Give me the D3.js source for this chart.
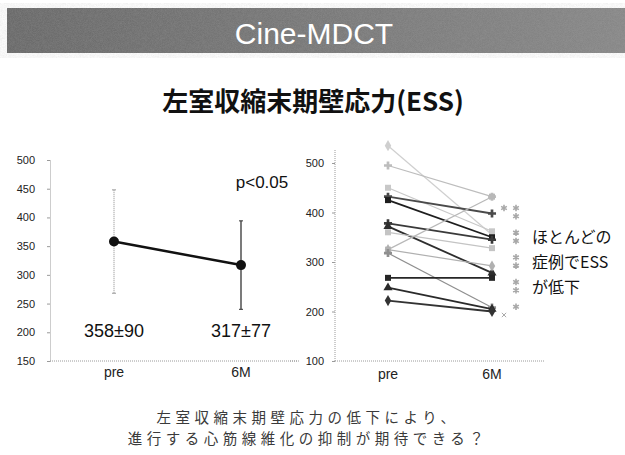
<!DOCTYPE html>
<html>
<head>
<meta charset="utf-8">
<script src="https://cdn.jsdelivr.net/npm/d3@7"></script>
<style>
  body { margin: 0; background: #fff; }
  svg { display: block; font-family: "Liberation Sans", Arial, sans-serif; }
</style>
</head>
<body>
<svg id="chart" width="625" height="455"></svg>
<script>
// --- data ---
const timepoints = ['pre', '6M'];
const meanValues = [358, 317];
const sdValues = [90, 77];
const meanLabels = ['358±90', '317±77'];
const leftTicks = [150, 200, 250, 300, 350, 400, 450, 500];
const rightTicks = [100, 200, 300, 400, 500];

// individual patients, pre and 6M
const preValues  = [535, 495, 450, 432, 425, 378, 372, 360, 325, 325, 318, 268, 248, 222];
const postValues = [355, 432, 362, 398, 350, 345, 278, 328, 432, 292, 208, 268, 205, 200];
const lineShades = ['#cfcfcf', '#bdbdbd', '#c8c8c8', '#4a4a4a', '#1e1e1e', '#3a3a3a', '#2e2e2e',
                    '#c4c4c4', '#b8b8b8', '#b0b0b0', '#8f8f8f', '#262626', '#2a2a2a', '#333333'];
const markerTypes = ['diamond', 'cross', 'square', 'cross', 'square', 'cross', 'triangle',
                     'square', 'square', 'diamond', 'cross', 'square', 'triangle', 'diamond'];

const svg = d3.select('#chart');

// header band
const noise = svg.append('defs').append('filter').attr('id', 'grain');
noise.append('feTurbulence').attr('type', 'fractalNoise').attr('baseFrequency', 1.6).attr('numOctaves', 1).attr('seed', 3);
noise.append('feColorMatrix').attr('type', 'matrix')
    .attr('values', '0 0 0 0 0.5  0 0 0 0 0.5  0 0 0 0 0.5  0 0 0 0.9 -0.1');
const grad = svg.select('defs').append('linearGradient').attr('id', 'band');
grad.append('stop').attr('offset', '0%').attr('stop-color', '#666');
grad.append('stop').attr('offset', '100%').attr('stop-color', '#858585');

svg.append('rect').attr('x', 7).attr('y', 8).attr('width', 618).attr('height', 45).attr('fill', 'url(#band)');
svg.append('rect').attr('x', 7).attr('y', 8).attr('width', 618).attr('height', 45)
    .attr('filter', 'url(#grain)').attr('opacity', 0.35);
svg.append('text').attr('x', 314).attr('y', 44).attr('text-anchor', 'middle')
    .attr('font-size', 30).attr('fill', '#fff').text('Cine-MDCT');

// title
svg.append('text').attr('x', 313).attr('y', 111).attr('text-anchor', 'middle')
    .attr('font-family', '"Noto Sans CJK JP", sans-serif')
    .attr('font-size', 26).attr('font-weight', 700).attr('fill', '#111')
    .text('左室収縮末期壁応力(ESS)');

function styleAxis(g) {
    g.select('.domain').attr('stroke', '#9a9a9a').attr('stroke-dasharray', '1,1');
    g.selectAll('.tick line').attr('stroke', '#9a9a9a');
    g.selectAll('.tick text').attr('font-size', 11).attr('fill', '#222')
        .attr('font-family', '"Liberation Sans Narrow", "Arial Narrow", sans-serif');
}

// ---------- left chart: mean ± SD ----------
const yL = d3.scaleLinear().domain([150, 500]).range([361, 160]);
const xL = d3.scalePoint().domain(timepoints).range([114, 241]);

svg.append('g').attr('transform', 'translate(50,0)')
    .call(d3.axisLeft(yL).tickValues(leftTicks).tickSize(3).tickSizeOuter(0).tickPadding(12))
    .call(styleAxis);
svg.append('line').attr('x1', 50).attr('x2', 298).attr('y1', yL(150)).attr('y2', yL(150))
    .attr('stroke', '#9a9a9a').attr('stroke-dasharray', '1,1');

// error bars
timepoints.forEach((t, i) => {
    const dotted = i === 0;
    svg.append('line')
        .attr('x1', xL(t)).attr('x2', xL(t))
        .attr('y1', yL(meanValues[i] - sdValues[i])).attr('y2', yL(meanValues[i] + sdValues[i]))
        .attr('stroke', dotted ? '#8a8a8a' : '#333')
        .attr('stroke-width', dotted ? 1 : 1.3)
        .attr('stroke-dasharray', dotted ? '1,1' : null);
    [meanValues[i] - sdValues[i], meanValues[i] + sdValues[i]].forEach(v => {
        svg.append('line').attr('x1', xL(t) - 2).attr('x2', xL(t) + 2)
            .attr('y1', yL(v)).attr('y2', yL(v)).attr('stroke', dotted ? '#999' : '#333');
    });
});

svg.append('path')
    .datum(meanValues)
    .attr('fill', 'none').attr('stroke', '#111').attr('stroke-width', 2.5)
    .attr('d', d3.line().x((d, i) => xL(timepoints[i])).y(d => yL(d)));

svg.selectAll('.mean-dot').data(meanValues).enter().append('circle')
    .attr('cx', (d, i) => xL(timepoints[i])).attr('cy', d => yL(d)).attr('r', 5).attr('fill', '#111');

svg.selectAll('.mean-label').data(meanLabels).enter().append('text')
    .attr('x', (d, i) => xL(timepoints[i]))
    .attr('y', 337).attr('text-anchor', 'middle')
    .attr('font-size', 18).attr('fill', '#111').text(d => d);

svg.append('text').attr('x', 262).attr('y', 188).attr('text-anchor', 'middle')
    .attr('font-size', 17).attr('fill', '#111').text('p<0.05');

svg.selectAll('.xl').data(timepoints).enter().append('text')
    .attr('x', d => xL(d)).attr('y', 377).attr('text-anchor', 'middle')
    .attr('font-family', '"Liberation Sans Narrow", "Arial Narrow", sans-serif')
    .attr('font-size', 14).attr('fill', '#222').text(d => d);

// ---------- right chart: individual patients ----------
const yR = d3.scaleLinear().domain([100, 500]).range([361, 163]);
const xR = d3.scalePoint().domain(timepoints).range([388, 492]);

svg.append('g').attr('transform', 'translate(335,0)')
    .call(d3.axisLeft(yR).tickValues(rightTicks).tickSize(3).tickSizeOuter(0).tickPadding(8))
    .call(styleAxis)
    .call(g => g.select('.domain').attr('d', `M0,${yR(100)}V150`));
svg.append('line').attr('x1', 290).attr('x2', 300).attr('y1', yR(100)).attr('y2', yR(100))
    .attr('stroke', '#9a9a9a').attr('stroke-dasharray', '1,1');
svg.append('line').attr('x1', 335).attr('x2', 545).attr('y1', yR(100)).attr('y2', yR(100))
    .attr('stroke', '#9a9a9a').attr('stroke-dasharray', '1,1');

const symbolOf = {
    diamond: d3.symbolDiamond, cross: d3.symbolCross, square: d3.symbolSquare,
    triangle: d3.symbolTriangle
};
const patients = preValues.map((p, i) => ({ pre: p, post: postValues[i], shade: lineShades[i], marker: markerTypes[i] }));

const pline = d3.line().x(d => xR(d.t)).y(d => yR(d.v));
patients.forEach(p => {
    const pts = [{ t: 'pre', v: p.pre }, { t: '6M', v: p.post }];
    svg.append('path').datum(pts)
        .attr('fill', 'none').attr('stroke', p.shade)
        .attr('stroke-width', p.shade < '#8' ? 1.8 : 1.2)
        .attr('d', pline);
    pts.forEach(q => {
        svg.append('path')
            .attr('transform', `translate(${xR(q.t)},${yR(q.v)})`)
            .attr('d', d3.symbol().type(symbolOf[p.marker]).size(36)())
            .attr('fill', p.shade);
    });
});

// legend markers column (truncated series legend)
const legendY = d3.scalePoint().domain(d3.range(patients.length)).range([208, 315]);
svg.selectAll('.leg').data(patients.slice(0, 9)).enter().append('path')
    .attr('transform', (d, i) => `translate(516,${legendY(i * 14 / 9 | 0)})`)
    .attr('d', d3.symbol().type(d3.symbolAsterisk).size(30)())
    .attr('fill', 'none').attr('stroke', '#a8a8a8').attr('stroke-width', 1.6);
svg.append('path').attr('transform', `translate(504,${legendY(0)})`)
    .attr('d', d3.symbol().type(d3.symbolAsterisk).size(30)())
    .attr('fill', 'none').attr('stroke', '#a8a8a8').attr('stroke-width', 1.6);
svg.append('path').attr('transform', `translate(504,${legendY(patients.length - 1)})`)
    .attr('d', d3.symbol().type(d3.symbolTimes).size(14)())
    .attr('fill', 'none').attr('stroke', '#aaa').attr('stroke-width', 1);

svg.selectAll('.xr').data(timepoints).enter().append('text')
    .attr('x', d => xR(d)).attr('y', 379).attr('text-anchor', 'middle')
    .attr('font-family', '"Liberation Sans Narrow", "Arial Narrow", sans-serif')
    .attr('font-size', 14).attr('fill', '#222').text(d => d);

// annotation
const note = ['ほとんどの', '症例でESS', 'が低下'];
svg.selectAll('.note').data(note).enter().append('text')
    .attr('x', 532).attr('y', (d, i) => 243 + i * 25)
    .attr('font-family', '"Noto Sans CJK JP", sans-serif')
    .attr('font-size', 16).attr('fill', '#111').text(d => d);

// footer question
const footer = ['左室収縮末期壁応力の低下により、', '進行する心筋線維化の抑制が期待できる？'];
svg.selectAll('.foot').data(footer).enter().append('text')
    .attr('x', 308).attr('y', (d, i) => 423 + i * 21)
    .attr('text-anchor', 'middle')
    .attr('font-family', '"Noto Sans CJK JP", sans-serif')
    .attr('font-size', 14.5).attr('letter-spacing', 4.5)
    .attr('fill', '#3a3a3a').text(d => d);
</script>
</body>
</html>
